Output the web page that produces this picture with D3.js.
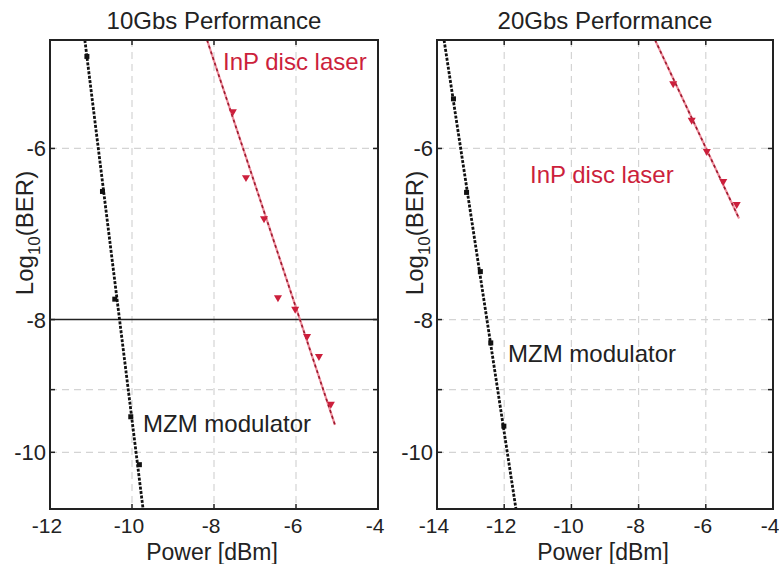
<!DOCTYPE html>
<html>
<head>
<meta charset="utf-8">
<script src="https://cdn.jsdelivr.net/npm/d3@7"></script>
<style>
  body { margin: 0; background: #fff; }
  text { font-family: "Liberation Sans", Arial, sans-serif; fill: #222; }
</style>
</head>
<body>
<div id="chart"></div>
<script>
// ---- data (power in dBm, log10 BER) ----
const xTicks10 = [-12, -10, -8, -6, -4];
const xTicks20 = [-14, -12, -10, -8, -6, -4];
const yTickLabels = [-6, -8, -10];
const yGridValues = [-6, -8, -9, -10];

// 10 Gb/s
const mzm10Power = [-11.10, -10.72, -10.42, -10.03, -9.82];
const mzm10LogBer = [-5.14, -6.45, -7.73, -9.42, -10.21];
const mzm10FitPower = [-11.15, -9.73];
const mzm10FitLogBer = [-5, -11];

const inp10Power = [-7.54, -7.22, -6.78, -6.44, -6.02, -5.73, -5.44, -5.15];
const inp10LogBer = [-5.64, -6.30, -6.75, -7.71, -7.86, -8.23, -8.51, -9.22];
const inp10FitPower = [-8.17, -5.05];
const inp10FitLogBer = [-5, -9.55];

// 20 Gb/s
const mzm20Power = [-13.51, -13.12, -12.71, -12.40, -12.01];
const mzm20LogBer = [-5.52, -6.46, -7.38, -8.32, -9.57];
const mzm20FitPower = [-13.79, -11.65];
const mzm20FitLogBer = [-5, -11];

const inp20Power = [-6.97, -6.42, -5.97, -5.48, -5.08];
const inp20LogBer = [-5.38, -5.72, -6.03, -6.34, -6.59];
const inp20FitPower = [-7.51, -5.01];
const inp20FitLogBer = [-5, -6.75];

const zip = (xs, ys) => xs.map((x, i) => ({ x: x, y: ys[i] }));

const RED = "#cc1f3c";
const W = 779, H = 564;

const svg = d3.select("#chart").append("svg")
    .attr("width", W)
    .attr("height", H);

function drawPanel(opt) {
    const g = svg.append("g");
    const x = d3.scaleLinear().domain(opt.xDomain).range([opt.left, opt.right]);
    // BER axis: log(-log10 BER) spacing
    const yLog = d3.scaleLog().domain([5, 11]).range([opt.top, opt.bottom]);
    const y = v => yLog(-v);

    const clipId = "clip" + opt.id;
    svg.append("clipPath").attr("id", clipId)
        .append("rect")
        .attr("x", opt.left).attr("y", opt.top)
        .attr("width", opt.right - opt.left).attr("height", opt.bottom - opt.top);

    // grid
    g.selectAll(".vgrid")
        .data(opt.xTicks.slice(1, -1))
        .join("line")
        .attr("x1", d => x(d)).attr("x2", d => x(d))
        .attr("y1", opt.top).attr("y2", opt.bottom)
        .attr("stroke", "#d4d4d4").attr("stroke-width", 1.2)
        .attr("stroke-dasharray", "7,5");

    g.selectAll(".hgrid")
        .data(yGridValues.filter(d => !(opt.solid8 && d === -8)))
        .join("line")
        .attr("x1", opt.left).attr("x2", opt.right)
        .attr("y1", d => y(d)).attr("y2", d => y(d))
        .attr("stroke", "#d4d4d4").attr("stroke-width", 1.2)
        .attr("stroke-dasharray", "7,5");

    if (opt.solid8) {
        g.append("line")
            .attr("x1", opt.left).attr("x2", opt.right)
            .attr("y1", y(-8)).attr("y2", y(-8))
            .attr("stroke", "#222").attr("stroke-width", 1.5);
    }

    // tick marks (inward, both sides)
    const tl = 5;
    opt.xTicks.forEach(t => {
        g.append("line").attr("x1", x(t)).attr("x2", x(t))
            .attr("y1", opt.bottom).attr("y2", opt.bottom - tl)
            .attr("stroke", "#222").attr("stroke-width", 1.5);
        g.append("line").attr("x1", x(t)).attr("x2", x(t))
            .attr("y1", opt.top).attr("y2", opt.top + tl)
            .attr("stroke", "#222").attr("stroke-width", 1.5);
    });
    yGridValues.forEach(t => {
        g.append("line").attr("x1", opt.left).attr("x2", opt.left + tl)
            .attr("y1", y(t)).attr("y2", y(t))
            .attr("stroke", "#222").attr("stroke-width", 1.5);
        g.append("line").attr("x1", opt.right).attr("x2", opt.right - tl)
            .attr("y1", y(t)).attr("y2", y(t))
            .attr("stroke", "#222").attr("stroke-width", 1.5);
    });

    // tick labels
    g.selectAll(".xlab")
        .data(opt.xTicks)
        .join("text")
        .attr("x", d => x(d) - 3)
        .attr("y", opt.bottom + 24)
        .attr("text-anchor", "middle")
        .style("font-size", "21px")
        .text(d => d);

    g.selectAll(".ylab")
        .data(yTickLabels)
        .join("text")
        .attr("x", opt.left - 4)
        .attr("y", d => y(d) + 8)
        .attr("text-anchor", "end")
        .style("font-size", "22px")
        .text(d => d);

    // fit lines
    const line = d3.line().x(d => x(d.x)).y(d => y(d.y));
    const lines = g.append("g").attr("clip-path", `url(#${clipId})`);

    lines.append("path")
        .datum(zip(opt.inpFitPower, opt.inpFitLogBer))
        .attr("d", line)
        .attr("fill", "none")
        .attr("stroke", "#ef8d9c").attr("stroke-width", 2.2);
    lines.append("path")
        .datum(zip(opt.inpFitPower, opt.inpFitLogBer))
        .attr("d", line)
        .attr("fill", "none")
        .attr("stroke", "#9a1a2e").attr("stroke-width", 1.6)
        .attr("stroke-dasharray", "3,3");

    lines.append("path")
        .datum(zip(opt.mzmFitPower, opt.mzmFitLogBer))
        .attr("d", line)
        .attr("fill", "none")
        .attr("stroke", "#111").attr("stroke-width", 2.8)
        .attr("stroke-dasharray", "3,1.5");

    // markers
    lines.selectAll(".mzm")
        .data(zip(opt.mzmPower, opt.mzmLogBer))
        .join("rect")
        .attr("x", d => x(d.x) - 2.5).attr("y", d => y(d.y) - 2.5)
        .attr("width", 5).attr("height", 5)
        .attr("fill", "#111");

    const tri = d3.symbol().type(d3.symbolTriangle).size(28);
    lines.selectAll(".inp")
        .data(zip(opt.inpPower, opt.inpLogBer))
        .join("path")
        .attr("d", tri)
        .attr("transform", d => `translate(${x(d.x)},${y(d.y)}) rotate(180)`)
        .attr("fill", RED);

    // frame
    g.append("rect")
        .attr("x", opt.left).attr("y", opt.top)
        .attr("width", opt.right - opt.left).attr("height", opt.bottom - opt.top)
        .attr("fill", "none").attr("stroke", "#222").attr("stroke-width", 2);

    // title and axis labels
    g.append("text")
        .attr("x", (opt.left + opt.right) / 2)
        .attr("y", 29)
        .attr("text-anchor", "middle")
        .style("font-size", "24px")
        .text(opt.title);

    g.append("text")
        .attr("x", (opt.left + opt.right) / 2 - 2)
        .attr("y", 560)
        .attr("text-anchor", "middle")
        .style("font-size", "23px")
        .text("Power [dBm]");

    const yl = g.append("text")
        .attr("transform", `translate(${opt.yLabelX},233) rotate(-90)`)
        .attr("text-anchor", "middle")
        .style("font-size", "24px");
    yl.append("tspan").text("Log");
    yl.append("tspan").attr("dy", 7).style("font-size", "17px").text("10");
    yl.append("tspan").attr("dy", -7).text("(BER)");

    // series labels
    g.append("text")
        .attr("x", opt.inpLabel[0]).attr("y", opt.inpLabel[1])
        .style("font-size", "24px")
        .style("fill", RED)
        .text("InP disc laser");
    g.append("text")
        .attr("x", opt.mzmLabel[0]).attr("y", opt.mzmLabel[1])
        .style("font-size", "24px")
        .text("MZM modulator");
}

drawPanel({
    id: "a", title: "10Gbs Performance",
    left: 50, right: 378, top: 40, bottom: 509,
    xDomain: [-12, -4], xTicks: xTicks10, solid8: true, yLabelX: 33,
    mzmPower: mzm10Power, mzmLogBer: mzm10LogBer,
    mzmFitPower: mzm10FitPower, mzmFitLogBer: mzm10FitLogBer,
    inpPower: inp10Power, inpLogBer: inp10LogBer,
    inpFitPower: inp10FitPower, inpFitLogBer: inp10FitLogBer,
    inpLabel: [223, 70], mzmLabel: [143, 432]
});

drawPanel({
    id: "b", title: "20Gbs Performance",
    left: 437, right: 773, top: 40, bottom: 509,
    xDomain: [-14, -4], xTicks: xTicks20, solid8: false, yLabelX: 423,
    mzmPower: mzm20Power, mzmLogBer: mzm20LogBer,
    mzmFitPower: mzm20FitPower, mzmFitLogBer: mzm20FitLogBer,
    inpPower: inp20Power, inpLogBer: inp20LogBer,
    inpFitPower: inp20FitPower, inpFitLogBer: inp20FitLogBer,
    inpLabel: [530, 183], mzmLabel: [508, 362]
});
</script>
</body>
</html>
